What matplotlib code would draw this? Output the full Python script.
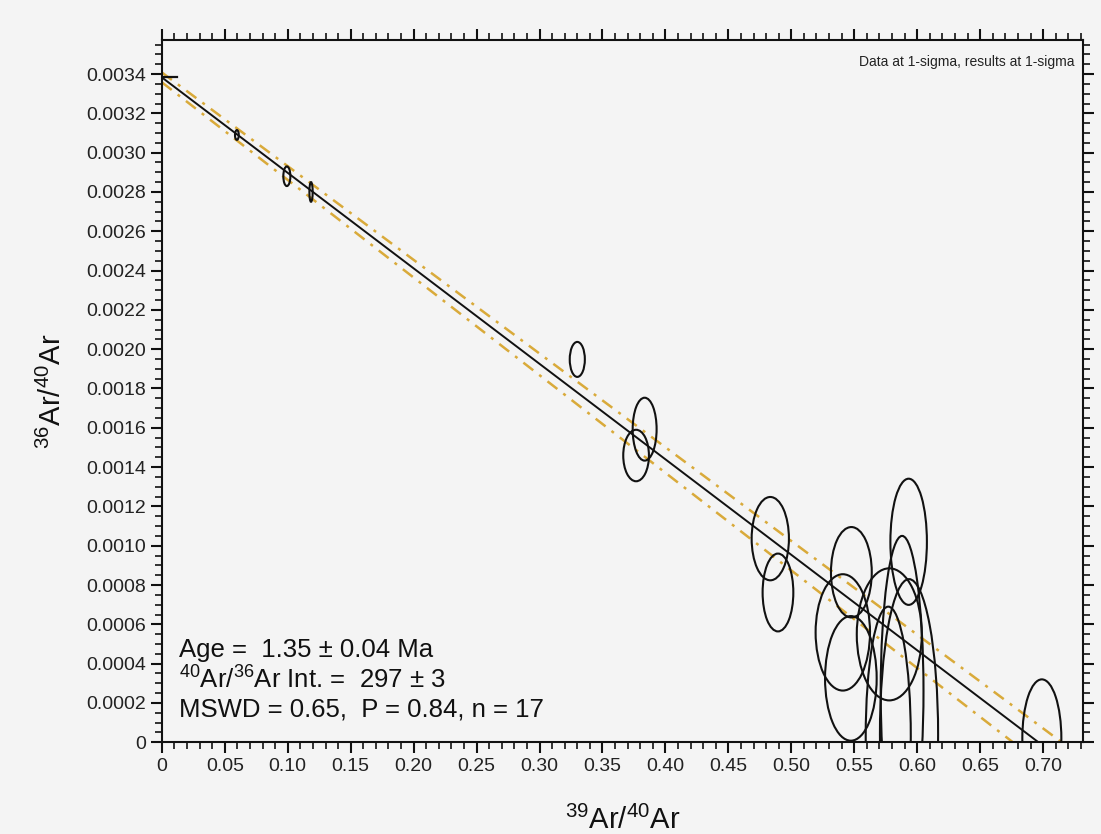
import matplotlib
matplotlib.use("Agg")
import matplotlib.pyplot as plt
from matplotlib.patches import Ellipse
from matplotlib.ticker import MultipleLocator, FuncFormatter

plt.rcParams['font.family'] = ['Liberation Sans', 'DejaVu Sans']
plt.rcParams['mathtext.fontset'] = 'custom'
plt.rcParams['mathtext.rm'] = 'Liberation Sans'
plt.rcParams['mathtext.it'] = 'Liberation Sans'
plt.rcParams['mathtext.default'] = 'regular'

# ---- data: error ellipses (39Ar/40Ar, 36Ar/40Ar, half-width, half-height) ----
ell_x = [0.0596, 0.0993, 0.1185, 0.3300, 0.3835, 0.3767, 0.4833, 0.4894, 0.5477,
         0.5409, 0.5473, 0.5778, 0.5932, 0.5880, 0.5770, 0.5935, 0.6990]
ell_y = [0.00309, 0.00288, 0.00280, 0.001948, 0.001593, 0.001459, 0.001036, 0.000762, 0.000865,
         0.000559, 0.000325, 0.000549, 0.00102, 0.00026, 0.00003, 0.00004, 0.00002]
ell_hw = [0.0015, 0.0028, 0.0013, 0.0060, 0.0095, 0.0102, 0.0148, 0.0122, 0.0162,
          0.0216, 0.0205, 0.0258, 0.0145, 0.0170, 0.0179, 0.0231, 0.0155]
ell_hh = [0.000025, 0.00005, 0.00005, 0.000089, 0.00016, 0.000131, 0.000212, 0.000198, 0.00023,
          0.000296, 0.000317, 0.000336, 0.000321, 0.00079, 0.00066, 0.00079, 0.0003]

# isochron fit line and error envelope (endpoints)
fit_x = [0.0, 0.6963]
fit_y = [0.003383, 0.0]
env_up_x = [0.0, 0.7148]
env_up_y = [0.003408, 0.0]
env_lo_x = [0.0, 0.676]
env_lo_y = [0.003358, 0.0]
icpt_x = [0.0, 0.012]
icpt_y = [0.003383, 0.003383]

xticks = [0, 0.05, 0.10, 0.15, 0.20, 0.25, 0.30, 0.35, 0.40, 0.45, 0.50, 0.55, 0.60, 0.65, 0.70]
yticks = [0, 0.0002, 0.0004, 0.0006, 0.0008, 0.0010, 0.0012, 0.0014, 0.0016, 0.0018, 0.0020,
          0.0022, 0.0024, 0.0026, 0.0028, 0.0030, 0.0032, 0.0034]

bg = '#f4f4f4'
fig = plt.figure(figsize=(11.01, 8.34), dpi=100, facecolor=bg)
ax = fig.add_axes([0.147, 0.110, 0.837, 0.842], facecolor=bg)

ax.set_xlim(0, 0.732)
ax.set_ylim(0, 0.003573)

gold = '#d9aa3a'
ax.plot(env_up_x, env_up_y, color=gold, lw=1.8, ls=(0, (5, 3, 1.2, 3)), zorder=2)
ax.plot(env_lo_x, env_lo_y, color=gold, lw=1.8, ls=(0, (5, 3, 1.2, 3)), zorder=2)
ax.plot(fit_x, fit_y, color='#111111', lw=1.4, zorder=3)
ax.plot(icpt_x, icpt_y, color='#111111', lw=1.6, zorder=3)

for x, y, hw, hh in zip(ell_x, ell_y, ell_hw, ell_hh):
    ax.add_patch(Ellipse((x, y), 2 * hw, 2 * hh, fill=False, edgecolor='#111111', lw=1.5, zorder=4))

ax.set_xticks(xticks)
ax.set_yticks(yticks)
ax.xaxis.set_minor_locator(MultipleLocator(0.01))
ax.yaxis.set_minor_locator(MultipleLocator(0.00005))
ax.xaxis.set_major_formatter(FuncFormatter(lambda v, p: '0' if abs(v) < 1e-9 else f'{v:.2f}'))
ax.yaxis.set_major_formatter(FuncFormatter(lambda v, p: '0' if abs(v) < 1e-12 else f'{v:.4f}'))
ax.tick_params(which='both', direction='out', top=True, right=True, colors='#111111',
               labelcolor='#222222', labelsize=14)
ax.tick_params(which='major', length=8, width=1.5)
ax.tick_params(which='minor', length=5, width=1.2)
for s in ax.spines.values():
    s.set_linewidth(1.5)
    s.set_color('#111111')

ax.set_xlabel(r'$^{39}$Ar/$^{40}$Ar', fontsize=21, color='#111111', labelpad=22)
ax.set_ylabel(r'$^{36}$Ar/$^{40}$Ar', fontsize=21, color='#111111', labelpad=14)

ax.text(0.990, 0.978, 'Data at 1-sigma, results at 1-sigma', transform=ax.transAxes,
        ha='right', va='top', fontsize=10, color='#222222')

ax.text(0.019, 0.030, 'Age =  1.35 ± 0.04 Ma\n'
        r'$^{40}$Ar/$^{36}$Ar Int. =  297 ± 3' '\n'
        'MSWD = 0.65,  P = 0.84, n = 17',
        transform=ax.transAxes, ha='left', va='bottom', fontsize=18.5, color='#111111',
        linespacing=1.2)

fig.savefig('out.png', dpi=100, facecolor=bg)
